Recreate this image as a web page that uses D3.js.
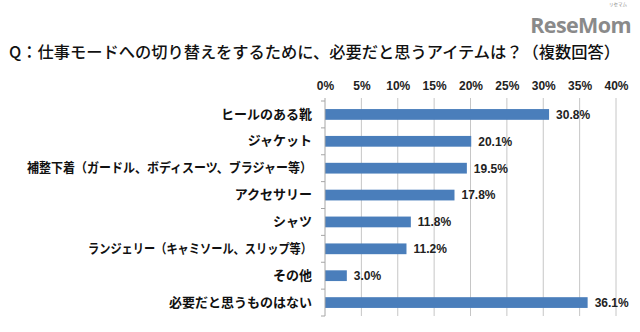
<!DOCTYPE html>
<html><head><meta charset="utf-8">
<script src="https://cdn.jsdelivr.net/npm/d3@7"></script>
<style>body{margin:0;background:#fff}svg{display:block}</style>
</head><body>
<svg id="c" width="640" height="332"></svg>
<script>
const categories = ["ヒールのある靴","ジャケット","補整下着（ガードル、ボディスーツ、ブラジャー等）","アクセサリー","シャツ","ランジェリー（キャミソール、スリップ等）","その他","必要だと思うものはない"];
const values = [30.8,20.1,19.5,17.8,11.8,11.2,3.0,36.1];
const tickValues = [0,5,10,15,20,25,30,35,40];
const title = "Q：仕事モードへの切り替えをするために、必要だと思うアイテムは？（複数回答）";

const svg = d3.select("#c");
const font = "'Noto Sans CJK JP', sans-serif";
const numFont = "'Liberation Sans', Arial, sans-serif";
const x = d3.scaleLinear().domain([0,40]).range([325,616]);
const y = d3.scaleBand().domain(categories).range([101,316]).paddingInner(0.6).paddingOuter(0.3);

// logo
svg.append("text").attr("x",631).attr("y",33).attr("text-anchor","end")
  .attr("font-family","'Open Sans', sans-serif").attr("font-weight","bold").attr("font-size",21.5)
  .attr("fill","#8a8a8a").attr("letter-spacing",-0.6).text("ReseMom");
svg.append("text").attr("x",627).attr("y",6).attr("text-anchor","end")
  .attr("font-family",font).attr("font-size",4.5).attr("fill","#8a8a8a").text("リセマム");

// title
svg.append("text").attr("x",9).attr("y",58)
  .attr("font-family",font).attr("font-weight",500).attr("font-size",16.2).attr("fill","#111")
  .attr("textLength",611).attr("lengthAdjust","spacingAndGlyphs").text(title);

// gridlines
svg.selectAll("line.grid").data(tickValues.slice(1)).join("line")
  .attr("x1",d=>x(d)).attr("x2",d=>x(d)).attr("y1",98).attr("y2",316)
  .attr("stroke","#c6c6c6").attr("stroke-width",1);

// top axis labels
const xAxis = d3.axisTop(x).tickValues(tickValues).tickFormat(d=>d+"%").tickSize(0).tickPadding(0);
const ax = svg.append("g").attr("transform","translate(0,89.5)").call(xAxis);
ax.select(".domain").remove();
ax.selectAll("text").attr("font-family",numFont).attr("font-weight","bold")
  .attr("font-size",12).attr("fill","#222");

// bars
svg.selectAll("rect.bar").data(values).join("rect")
  .attr("x",x(0)).attr("y",(d,i)=>y(categories[i]))
  .attr("width",d=>x(d)-x(0)).attr("height",y.bandwidth())
  .attr("fill","#4a7ebb");

// left axis
const step = y.step();
const yAxis = d3.axisLeft(y).tickSize(0).tickPadding(13);
const ay = svg.append("g").attr("transform",`translate(${x(0)},0)`).call(yAxis);
ay.select(".domain").attr("stroke","#a6a6a6").attr("d",`M0,98V316`);
const longLabelWidth = {"補整下着（ガードル、ボディスーツ、ブラジャー等）":285,"ランジェリー（キャミソール、スリップ等）":224};
ay.selectAll("text").attr("font-family",font).attr("font-weight","bold").attr("font-size",13).attr("fill","#111")
  .each(function(d){ if(longLabelWidth[d]) d3.select(this).attr("textLength",longLabelWidth[d]).attr("lengthAdjust","spacingAndGlyphs"); });
// boundary tick marks
const bounds = d3.range(categories.length+1).map(i=>y.range()[0]+ i*step);
svg.selectAll("line.tk").data(bounds).join("line")
  .attr("x1",x(0)-4).attr("x2",x(0)).attr("y1",d=>d).attr("y2",d=>d)
  .attr("stroke","#a6a6a6");

// value labels
svg.selectAll("text.val").data(values).join("text")
  .attr("x",d=>x(d)+7).attr("y",(d,i)=>y(categories[i])+y.bandwidth()/2).attr("dy","0.36em")
  .attr("font-family",numFont).attr("font-weight","bold").attr("font-size",12)
  .attr("fill","#222").text(d=>d.toFixed(1)+"%");
</script>
</body></html>
